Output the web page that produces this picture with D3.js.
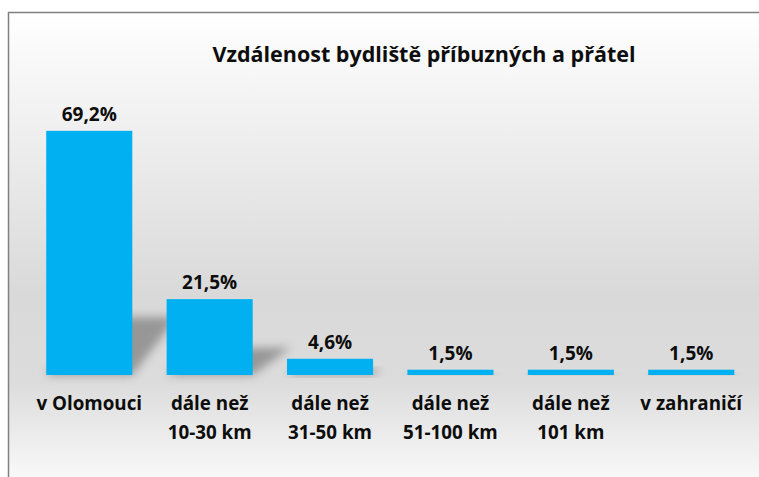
<!DOCTYPE html>
<html lang="cs">
<head>
<meta charset="utf-8">
<script src="https://cdn.jsdelivr.net/npm/d3@7"></script>
<style>
	body { margin: 0; background: #fff; }
	#graphic { width: 759px; height: 477px; }
	text { font-family: "Open Sans", "Noto Sans", sans-serif; font-weight: bold; fill: #0d0d0d; }
</style>
</head>
<body>
<div id="graphic"></div>
<script>
// chart data
const categories = ['v Olomouci', 'dále než 10-30 km', 'dále než 31-50 km', 'dále než 51-100 km', 'dále než 101 km', 'v zahraničí'];
const labelLines = [['v Olomouci'], ['dále než', '10-30 km'], ['dále než', '31-50 km'], ['dále než', '51-100 km'], ['dále než', '101 km'], ['v zahraničí']];
const values = [69.2, 21.5, 4.6, 1.5, 1.5, 1.5];
const titleText = 'Vzdálenost bydliště příbuzných a přátel';

let graphic = d3.select('#graphic');
let width = 759, height = 477;

let svg = graphic.append('svg')
	.attr('width', width)
	.attr('height', height);

let defs = svg.append('defs');

// background gradient, white -> grey -> white
let grad = defs.append('linearGradient')
	.attr('id', 'bg')
	.attr('x1', 0).attr('y1', 0).attr('x2', 0).attr('y2', 1);
grad.append('stop').attr('offset', '0%').attr('stop-color', '#ffffff');
grad.append('stop').attr('offset', '58%').attr('stop-color', '#d9d9d9');
grad.append('stop').attr('offset', '76%').attr('stop-color', '#dcdcdc');
grad.append('stop').attr('offset', '100%').attr('stop-color', '#ffffff');

defs.append('filter')
	.attr('id', 'blur')
	.attr('x', '-50%').attr('y', '-50%').attr('width', '200%').attr('height', '200%')
	.append('feGaussianBlur')
	.attr('stdDeviation', 5);

// frame
svg.append('rect')
	.attr('x', 8.5)
	.attr('y', 12.5)
	.attr('width', width + 10)
	.attr('height', height + 10)
	.attr('fill', 'url(#bg)')
	.attr('stroke', '#808080')
	.attr('stroke-width', 1.5);

//set up scales
let x = d3.scaleBand()
	.domain(categories)
	.range([29, 751.5])
	.paddingInner(0.285)
	.paddingOuter(0.143);

let y = d3.scaleLinear()
	.domain([0, 70])
	.range([375, 128]);

let bars = svg.append('g');

// perspective shadows behind the bars
bars.selectAll('.shadow')
	.data(values)
	.join('path')
	.attr('class', 'shadow')
	.attr('fill', '#6a6a6a')
	.attr('opacity', 0.6)
	.attr('filter', 'url(#blur)')
	.attr('d', (d, i) => {
		let x0 = x(categories[i]);
		let x1 = x0 + x.bandwidth();
		let h = y(0) - y(d);
		let dx = Math.min(h * 0.5, 45), dy = Math.min(h * 0.36, 58);
		return `M${x0},${y(0)}L${x1},${y(0)}L${x1 + dx},${y(0) - dy}L${x0 + dx},${y(0) - dy}Z`;
	});

bars.selectAll('.bar')
	.data(values)
	.join('rect')
	.attr('class', 'bar')
	.attr('x', (d, i) => x(categories[i]))
	.attr('y', d => y(d))
	.attr('width', x.bandwidth())
	.attr('height', d => y(0) - y(d))
	.attr('fill', '#00b0f0');

// value labels
svg.selectAll('.value')
	.data(values)
	.join('text')
	.attr('class', 'value')
	.attr('x', (d, i) => x(categories[i]) + x.bandwidth() / 2)
	.attr('y', d => y(d) - 10)
	.attr('text-anchor', 'middle')
	.style('font-size', '19px')
	.text(d => d3.format('.1f')(d).replace('.', ',') + '%');

// category labels
let cat = svg.selectAll('.cat')
	.data(labelLines)
	.join('text')
	.attr('class', 'cat')
	.attr('x', (d, i) => x(categories[i]) + x.bandwidth() / 2)
	.attr('y', 410)
	.attr('text-anchor', 'middle')
	.style('font-size', '18.8px');

cat.selectAll('tspan')
	.data((d, i) => d.map(t => ({ t, cx: x(categories[i]) + x.bandwidth() / 2 })))
	.join('tspan')
	.attr('x', d => d.cx)
	.attr('dy', (d, j) => j === 0 ? 0 : 29)
	.text(d => d.t);

// title
svg.append('text')
	.attr('x', 424)
	.attr('y', 62)
	.attr('text-anchor', 'middle')
	.style('font-size', '21.5px')
	.text(titleText);
</script>
</body>
</html>
